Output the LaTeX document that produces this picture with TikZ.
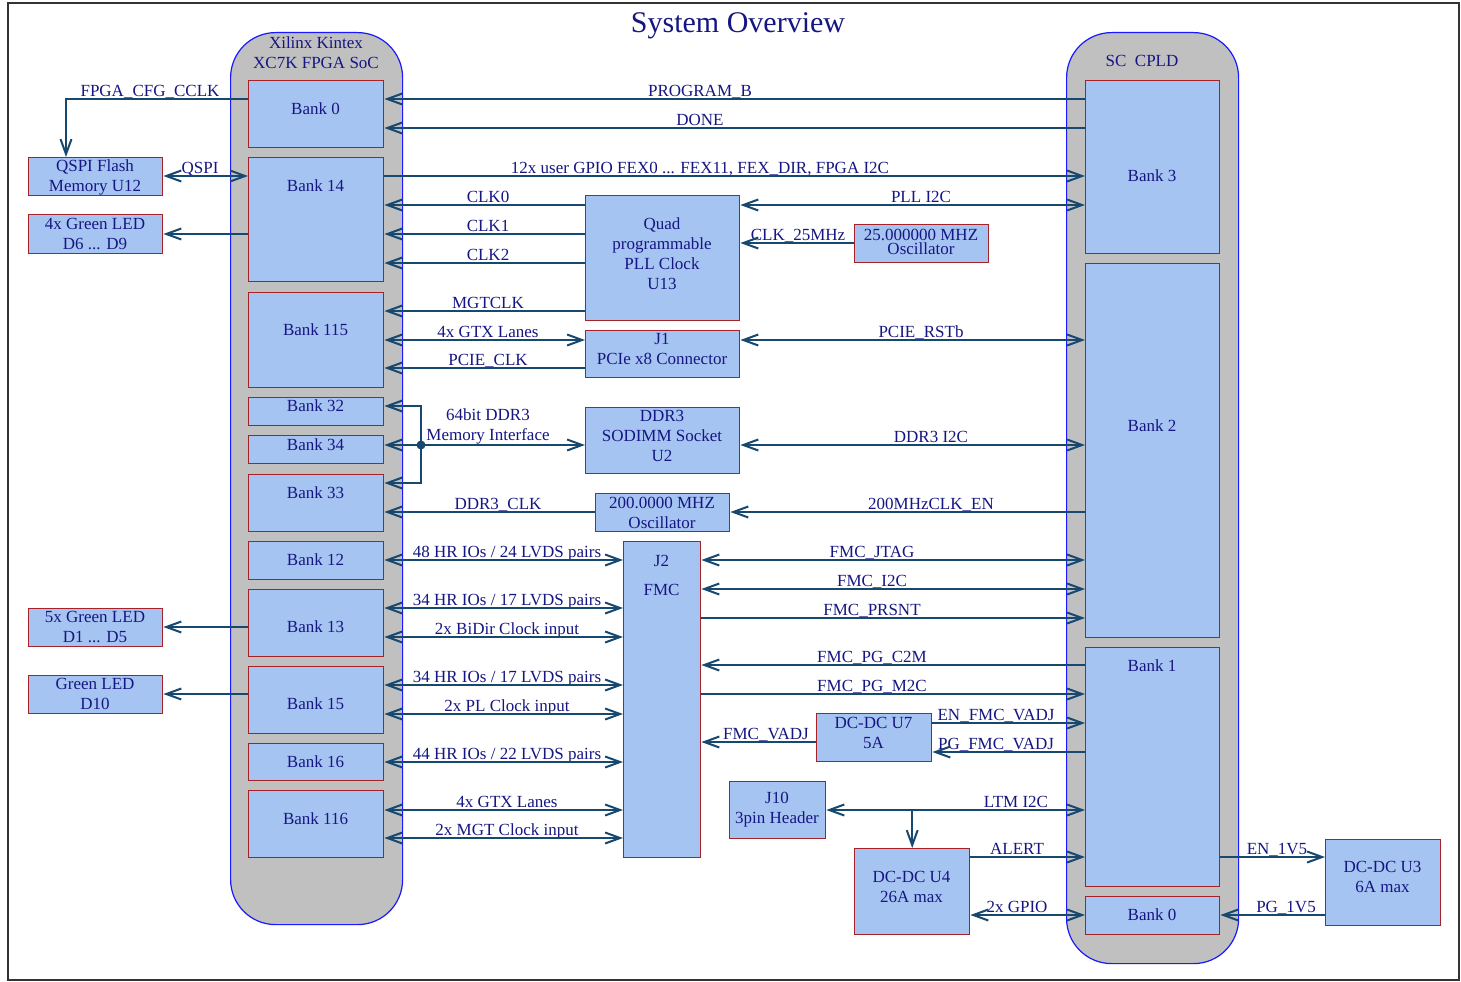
\documentclass[tikz,border=0pt]{standalone}
\usepackage{fontspec}
\setmainfont{Liberation Serif}
\usetikzlibrary{arrows.meta}
\definecolor{navy}{RGB}{22,22,130}
\definecolor{wirec}{RGB}{22,72,112}
\definecolor{boxblue}{RGB}{166,196,242}
\definecolor{boxred}{RGB}{165,35,40}
\definecolor{contgray}{RGB}{192,192,192}
\definecolor{contblue}{RGB}{25,25,255}
\newcommand\bodyfont{\fontsize{17}{20}\selectfont}
\newcommand\bx[7]{%
  \node[box, anchor=north west, minimum width={#4-#2}, minimum height={#5-#3}] (#1) at (#2,#3) {};
  \node[txt] (#1t) at ({(#2+#4)/2},#6) {#7};}
\newcommand\lab[3]{\node[lbl] at (#1,{#2-3}) {#3};}
\tikzset{
  box/.style={draw=boxred, fill=boxblue, line width=1.4pt, inner sep=0pt},
  cont/.style={draw=contblue, fill=contgray, line width=1.2pt, rounded corners=45pt, inner sep=0pt},
  txt/.style={text=navy, font=\bodyfont, align=center, inner sep=0pt},
  lbl/.style={text=navy, font=\bodyfont, anchor=base, inner sep=0pt},
  wire/.style={draw=wirec, line width=2pt},
  >={Straight Barb[length=15pt,width=11pt]}
}
\begin{document}
\begin{tikzpicture}[x=1pt,y=-1pt]
\useasboundingbox (0,0) rectangle (1461,982);
\fill[white] (0,0) rectangle (1461,982);
\draw[line width=2pt, black!80] (8,3) rectangle (1459,980);
\node[text=navy, font=\fontsize{30}{34}\selectfont, anchor=base, inner sep=0pt] (title) at (738,33) {System Overview};

% containers
\node[cont, anchor=north west, minimum width=172, minimum height=892] (fpga) at (230,32) {};
\node[cont, anchor=north west, minimum width=172, minimum height=931] (cpld) at (1066,32) {};
\node[txt] (fpgat) at (316,52.5) {Xilinx Kintex\\XC7K FPGA SoC};
\node[txt] (cpldt) at (1142,61) {SC\ \ CPLD};

% FPGA banks
\bx{b0}{248}{80}{383}{147}{109}{Bank 0}
\bx{b14}{248}{157}{383}{281}{186}{Bank 14}
\bx{b115}{248}{292}{383}{387}{330}{Bank 115}
\bx{b32}{248}{397}{383}{425}{406}{Bank 32}
\bx{b34}{248}{435}{383}{463}{445}{Bank 34}
\bx{b33}{248}{474}{383}{531}{493}{Bank 33}
\bx{b12}{248}{541}{383}{579}{560}{Bank 12}
\bx{b13}{248}{589}{383}{656}{627}{Bank 13}
\bx{b15}{248}{666}{383}{733}{704}{Bank 15}
\bx{b16}{248}{743}{383}{780}{762}{Bank 16}
\bx{b116}{248}{790}{383}{857}{819}{Bank 116}

% CPLD banks
\bx{r3}{1085}{80}{1219}{253}{176}{Bank 3}
\bx{r2}{1085}{263}{1219}{637}{426}{Bank 2}
\bx{r1}{1085}{647}{1219}{886}{666}{Bank 1}
\bx{r0}{1085}{896}{1219}{934}{915}{Bank 0}

% left external
\bx{qspi}{28}{157}{162}{195}{177}{QSPI Flash\\Memory U12}
\bx{led4}{28}{214}{162}{253}{234}{4x Green LED\\D6 ... D9}
\bx{led5}{28}{608}{162}{646}{627}{5x Green LED\\D1 ... D5}
\bx{led1}{28}{675}{162}{713}{694}{Green LED\\D10}

% middle
\bx{pll}{585}{195}{739}{320}{254}{Quad\\programmable\\PLL Clock\\U13}
\bx{osc25}{854}{224}{988}{262}{242}{25.000000 MHZ\\[-6pt]Oscillator}
\bx{j1}{585}{330}{739}{377}{349}{J1\\PCIe x8 Connector}
\bx{ddr}{585}{407}{739}{473}{436}{DDR3\\SODIMM Socket\\U2}
\bx{osc200}{595}{493}{729}{531}{513}{200.0000 MHZ\\Oscillator}
\bx{j2}{623}{541}{700}{857}{575}{J2\\[9pt]FMC}
\bx{u7}{816}{713}{931}{761}{733}{DC-DC U7\\5A}
\bx{j10}{729}{781}{825}{838}{810}{J10\\3pin Header}
\bx{u4}{854}{848}{969}{934}{887}{DC-DC U4\\26A max}
\bx{u3}{1325}{839}{1440}{925}{877}{DC-DC U3\\6A max}

% labels
\lab{150}{99}{FPGA\_CFG\_CCLK}
\lab{200}{176}{QSPI}
\lab{700}{99}{PROGRAM\_B}
\lab{700}{128}{DONE}
\lab{700}{176}{12x user GPIO FEX0 ... FEX11, FEX\_DIR, FPGA I2C}
\lab{488}{205}{CLK0}
\lab{488}{234}{CLK1}
\lab{488}{263}{CLK2}
\lab{921}{205}{PLL I2C}
\lab{798}{243}{CLK\_25MHz}
\lab{488}{311}{MGTCLK}
\lab{488}{340}{4x GTX Lanes}
\lab{488}{368}{PCIE\_CLK}
\lab{921}{340}{PCIE\_RSTb}
\node[txt] (ddrlab) at (488,426) {64bit DDR3\\Memory Interface};
\lab{931}{445}{DDR3 I2C}
\lab{498}{512}{DDR3\_CLK}
\lab{931}{512}{200MHzCLK\_EN}
\lab{507}{560}{48 HR IOs / 24 LVDS pairs}
\lab{507}{608}{34 HR IOs / 17 LVDS pairs}
\lab{507}{637}{2x BiDir Clock input}
\lab{507}{685}{34 HR IOs / 17 LVDS pairs}
\lab{507}{714}{2x PL Clock input}
\lab{507}{762}{44 HR IOs / 22 LVDS pairs}
\lab{507}{810}{4x GTX Lanes}
\lab{507}{838}{2x MGT Clock input}
\lab{872}{560}{FMC\_JTAG}
\lab{872}{589}{FMC\_I2C}
\lab{872}{618}{FMC\_PRSNT}
\lab{872}{665}{FMC\_PG\_C2M}
\lab{872}{694}{FMC\_PG\_M2C}
\lab{996}{723}{EN\_FMC\_VADJ}
\lab{996}{752}{PG\_FMC\_VADJ}
\lab{766}{742}{FMC\_VADJ}
\lab{1016}{810}{LTM I2C}
\lab{1017}{857}{ALERT}
\lab{1017}{915}{2x GPIO}
\lab{1277}{857}{EN\_1V5}
\lab{1286}{915}{PG\_1V5}

% wires
\draw[wire,->] (b0.west |- 0,99) -| (qspi.north -| 66,0);
\draw[wire,<->] (qspi.east |- 0,176) -- (b14.west |- 0,176);
\draw[wire,->] (b14.west |- 0,234) -- (led4.east |- 0,234);
\draw[wire,->] (r3.west |- 0,99) -- (b0.east |- 0,99);
\draw[wire,->] (r3.west |- 0,128) -- (b0.east |- 0,128);
\draw[wire,->] (b14.east |- 0,176) -- (r3.west |- 0,176);
\draw[wire,->] (pll.west |- 0,205) -- (b14.east |- 0,205);
\draw[wire,->] (pll.west |- 0,234) -- (b14.east |- 0,234);
\draw[wire,->] (pll.west |- 0,263) -- (b14.east |- 0,263);
\draw[wire,<->] (pll.east |- 0,205) -- (r3.west |- 0,205);
\draw[wire,->] (osc25.west |- 0,243) -- (pll.east |- 0,243);
\draw[wire,->] (pll.west |- 0,311) -- (b115.east |- 0,311);
\draw[wire,<->] (b115.east |- 0,340) -- (j1.west |- 0,340);
\draw[wire,->] (j1.west |- 0,368) -- (b115.east |- 0,368);
\draw[wire,<->] (j1.east |- 0,340) -- (r2.west |- 0,340);
\coordinate (jd) at (421,445);
\draw[wire,->] (jd) |- (b32.east |- 0,406);
\draw[wire,->] (jd) |- (b33.east |- 0,483);
\draw[wire,->] (jd) -- (b34.east |- 0,445);
\draw[wire,->] (jd) -- (ddr.west |- 0,445);
\fill[wirec] (jd) circle (4.5);
\draw[wire,<->] (ddr.east |- 0,445) -- (r2.west |- 0,445);
\draw[wire,->] (osc200.west |- 0,512) -- (b33.east |- 0,512);
\draw[wire,->] (r2.west |- 0,512) -- (osc200.east |- 0,512);
\draw[wire,<->] (b12.east |- 0,560) -- (j2.west |- 0,560);
\draw[wire,<->] (b13.east |- 0,608) -- (j2.west |- 0,608);
\draw[wire,<->] (b13.east |- 0,637) -- (j2.west |- 0,637);
\draw[wire,<->] (b15.east |- 0,685) -- (j2.west |- 0,685);
\draw[wire,<->] (b15.east |- 0,714) -- (j2.west |- 0,714);
\draw[wire,<->] (b16.east |- 0,762) -- (j2.west |- 0,762);
\draw[wire,<->] (b116.east |- 0,810) -- (j2.west |- 0,810);
\draw[wire,<->] (b116.east |- 0,838) -- (j2.west |- 0,838);
\draw[wire,->] (b13.west |- 0,627) -- (led5.east |- 0,627);
\draw[wire,->] (b15.west |- 0,694) -- (led1.east |- 0,694);
\draw[wire,<->] (j2.east |- 0,560) -- (r2.west |- 0,560);
\draw[wire,<->] (j2.east |- 0,589) -- (r2.west |- 0,589);
\draw[wire,->] (j2.east |- 0,618) -- (r2.west |- 0,618);
\draw[wire,->] (r1.west |- 0,665) -- (j2.east |- 0,665);
\draw[wire,->] (j2.east |- 0,694) -- (r1.west |- 0,694);
\draw[wire,->] (u7.east |- 0,723) -- (r1.west |- 0,723);
\draw[wire,->] (r1.west |- 0,752) -- (u7.east |- 0,752);
\draw[wire,->] (u7.west |- 0,742) -- (j2.east |- 0,742);
\draw[wire,<->] (j10.east |- 0,810) -- (r1.west |- 0,810);
\coordinate (lt) at (u4.north |- 0,810);
\draw[wire,->] (lt) -- (u4.north);
\draw[wire,->] (u4.east |- 0,857) -- (r1.west |- 0,857);
\draw[wire,<->] (u4.east |- 0,915) -- (r0.west |- 0,915);
\draw[wire,->] (r1.east |- 0,857) -- (u3.west |- 0,857);
\draw[wire,->] (u3.west |- 0,915) -- (r0.east |- 0,915);
\end{tikzpicture}
\end{document}
